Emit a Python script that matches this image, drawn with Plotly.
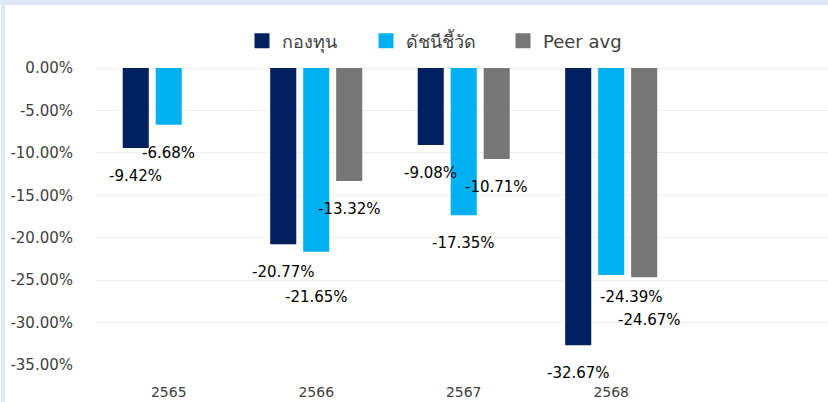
import plotly.graph_objects as go

categories = ["2565", "2566", "2567", "2568"]
fund = [-9.42, -20.77, -9.08, -32.67]
benchmark = [-6.68, -21.65, -17.35, -24.39]
peer = [None, -13.32, -10.71, -24.67]
series_names = ["กองทุน", "ดัชนีชี้วัด", "Peer avg"]
tick_vals = [0, -5, -10, -15, -20, -25, -30, -35]
tick_text = ["0.00%", "-5.00%", "-10.00%", "-15.00%", "-20.00%", "-25.00%", "-30.00%", "-35.00%"]

colors = ["#002060", "#00B0F0", "#767676"]
FONT = "DejaVu Sans"

# label placement tweaks (pixels): base drop below bar end, and per-label nudges
LABEL_DROP = 28
SLOT_PX = 33
label_nudges = {(1, 1): (0, 17), (1, 3): (20, -6), (2, 3): (5, 15)}

L, T, B = 95, 68, 37
W, H = 828, 402
# legend entry left edges (px) for each series
legend_px = [242, 366, 503]
legend_ids = ["legend", "legend2", "legend3"]

fig = go.Figure()
all_series = [fund, benchmark, peer]
for name, vals, col, lg in zip(series_names, all_series, colors, legend_ids):
    fig.add_trace(go.Bar(
        x=categories, y=vals, name=name,
        marker=dict(color=col, line=dict(width=0)),
        hoverinfo="skip", showlegend=False,
    ))
for name, col, lg in zip(series_names, colors, legend_ids):
    fig.add_trace(go.Scatter(
        x=[None], y=[None], name=name, mode="markers",
        marker=dict(symbol="square", size=15, color=col, line=dict(width=0)),
        hoverinfo="skip", showlegend=True, legend=lg,
    ))

for j, vals in enumerate(all_series):
    for i, v in enumerate(vals):
        if v is None:
            continue
        dx, dy = label_nudges.get((j, i), (0, 0))
        fig.add_annotation(
            x=i, y=v, xref="x", yref="y",
            text=f"{v:.2f}%", showarrow=False,
            xanchor="center", yanchor="middle",
            xshift=(j - 1) * SLOT_PX + dx, yshift=-(LABEL_DROP + dy),
            font=dict(family=FONT, size=15, color="#000000"),
        )

legend_style = {}
for lg, px in zip(legend_ids, legend_px):
    legend_style[lg] = dict(
        orientation="h", x=(px - L) / (W - L), xanchor="left",
        y=(H - B - 41) / (H - T - B), yanchor="middle",
        font=dict(family=FONT, size=18, color="#404040"),
        itemclick=False, itemdoubleclick=False, bgcolor="rgba(0,0,0,0)",
    )

fig.update_layout(
    width=W, height=H,
    margin=dict(l=L, r=0, t=T, b=B),
    paper_bgcolor="white", plot_bgcolor="white",
    barmode="group", bargap=0.329, bargroupgap=0.21,
    font=dict(family=FONT, color="#404040"),
    xaxis=dict(type="category", range=[-0.5, 4.47], showgrid=False, showline=False,
               ticks="", ticklabelstandoff=17,
               tickfont=dict(family=FONT, size=14, color="#404040")),
    yaxis=dict(range=[-35, 0], tickvals=tick_vals, ticktext=tick_text,
               showgrid=True, gridcolor="#EFEFEF", gridwidth=1,
               zeroline=True, zerolinecolor="#EFEFEF", zerolinewidth=1,
               showline=False, ticks="", ticklabelstandoff=21,
               tickfont=dict(family=FONT, size=15, color="#404040")),
    **legend_style,
)
fig.add_shape(type="rect", xref="paper", yref="paper",
              x0=(1 - L) / (W - L), x1=(5 - L) / (W - L),
              y0=(H - B - H) / (H - T - B), y1=(H - B) / (H - T - B),
              fillcolor="#DDE8F4", line=dict(width=0), layer="below")
fig.add_shape(type="rect", xref="paper", yref="paper",
              x0=(0 - L) / (W - L), x1=(W - L) / (W - L),
              y0=(H - B - 5) / (H - T - B), y1=(H - B) / (H - T - B),
              fillcolor="#DDE8F4", line=dict(width=0), layer="below")

fig.write_html("out.html", config={"displayModeBar": False},
               post_script="document.body.style.margin='0';")
